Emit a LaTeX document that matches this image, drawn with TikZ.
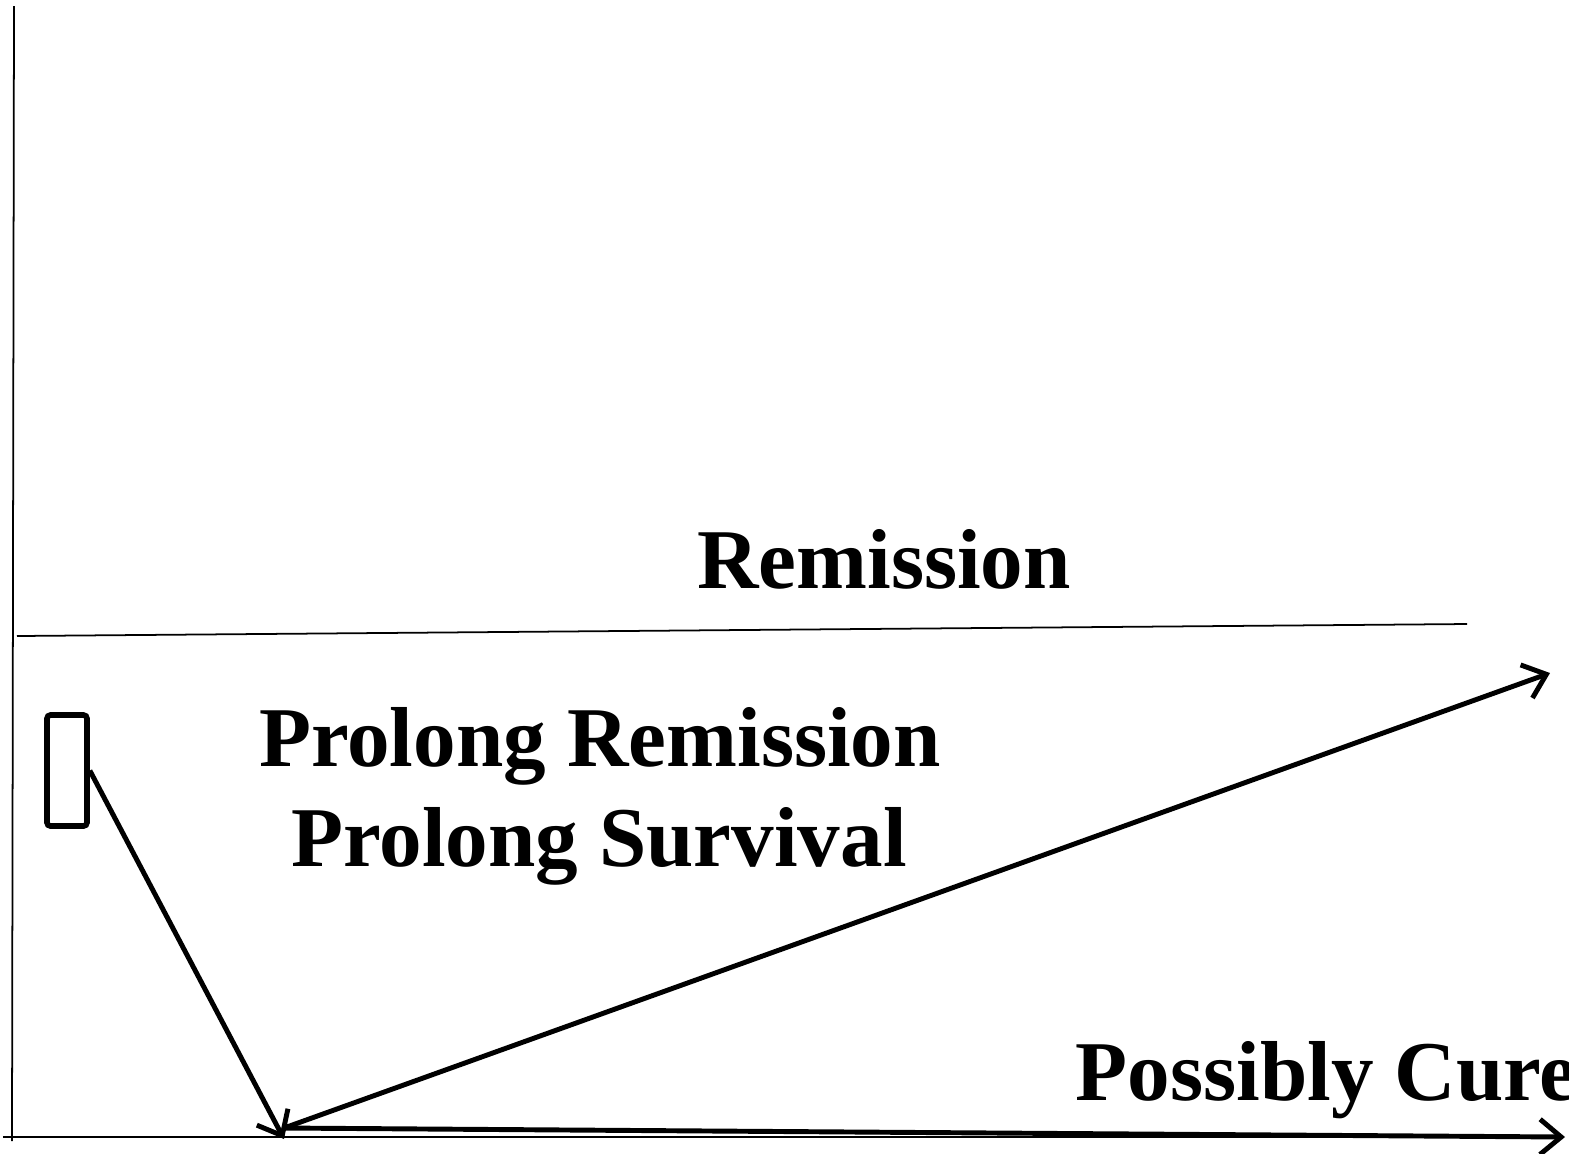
\documentclass[tikz,border=0pt]{standalone}
\usepackage{fontspec}
\setmainfont{Liberation Serif}
\usetikzlibrary{arrows.meta}
\tikzset{
  lbl/.style={font=\fontsize{24.2}{29}\selectfont\bfseries, inner sep=0pt},
  thin/.style={line width=0.5pt},
  thick arrow/.style={line width=1.4pt, -{Straight Barb[length=6pt,width=10pt]}},
}
\begin{document}
\begin{tikzpicture}[x=0.01cm,y=-0.01cm] %pixel units
  \useasboundingbox (0,0) rectangle (1569,1153);
  % axes and threshold
  \coordinate (ytop) at (14,6);
  \coordinate (ybot) at (12,1141);
  \coordinate (x0) at (3,1137);
  \coordinate (x1) at (1562,1137);
  \coordinate (th0) at (17,636);
  \coordinate (th1) at (1467,624);
  \draw [thin] (ytop) -- (ybot);
  \draw [thin] (x0) -- (x1);
  \draw [thin] (th0) -- (th1);
  % labels
  \node [lbl, anchor=base] (rem) at (884,588) {Remission};
  \node [lbl, anchor=base] (prem) at (600,766) {Prolong Remission};
  \node [lbl, anchor=base] (psur) at (599,866) {Prolong Survival};
  \node [lbl, anchor=base west] (cure) at (1075,1100) {Possibly Cure};
  % box and arrows
  \node [draw, line width=1.6pt, rounded corners=1pt, inner sep=0pt,
         minimum width=0.4cm, minimum height=1.11cm] (box) at (67,770.5) {};
  \coordinate (low) at (284,1128);
  \coordinate (tipdown) at (284,1139);
  \coordinate (tipup) at (1550,673);
  \coordinate (tipright) at (1565,1137);
  \draw [thick arrow] (box.east) -- (tipdown);
  \draw [thick arrow] (low) -- (tipup);
  \draw [thick arrow] (low) -- (tipright);
\end{tikzpicture}
\end{document}
